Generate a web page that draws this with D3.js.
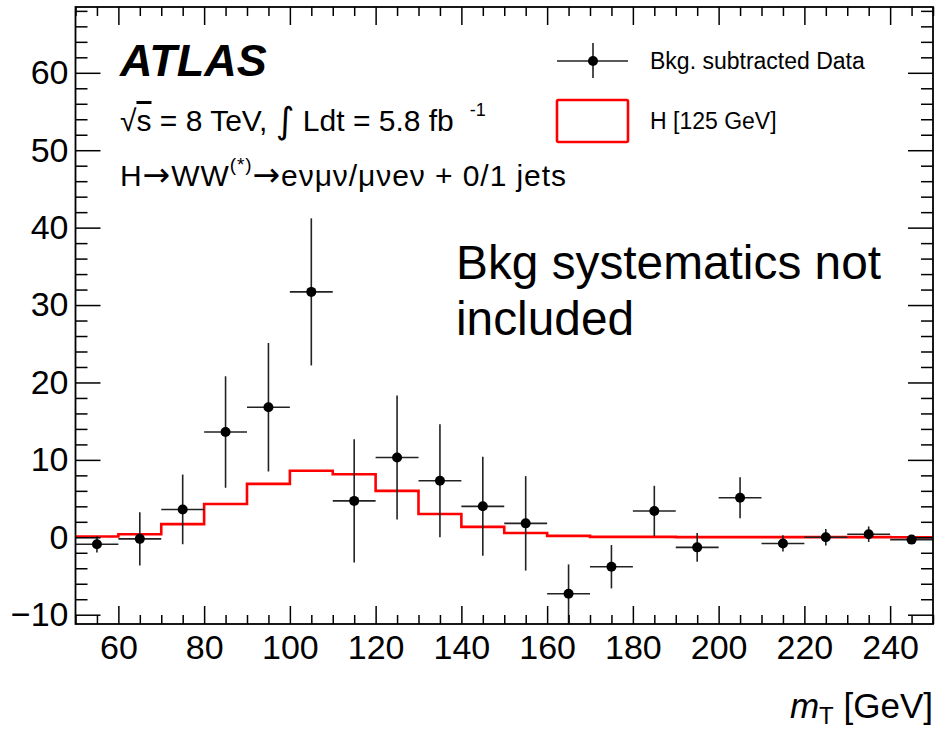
<!DOCTYPE html>
<html>
<head>
<meta charset="utf-8">
<script src="https://cdn.jsdelivr.net/npm/d3@7"></script>
<style>
  html, body { margin: 0; padding: 0; background: #fff; }
  svg { display: block; }
  text { font-family: "Liberation Sans", Arial, Helvetica, sans-serif; fill: #000; }
</style>
</head>
<body>
<svg id="chart" width="949" height="730"></svg>
<script>
// ---- data ----
const binEdges = [50, 60, 70, 80, 90, 100, 110, 120, 130, 140, 150, 160, 170, 180, 190, 200, 210, 220, 230, 240, 250];
const binCenters = [55, 65, 75, 85, 95, 105, 115, 125, 135, 145, 155, 165, 175, 185, 195, 205, 215, 225, 235, 245];
const dataValues = [-0.9, -0.2, 3.6, 13.6, 16.8, 31.7, 4.7, 10.3, 7.3, 4.0, 1.8, -7.3, -3.8, 3.4, -1.3, 5.1, -0.8, 0.0, 0.4, -0.3];
const dataErrors = [1.05, 3.45, 4.5, 7.2, 8.3, 9.5, 7.95, 8.0, 7.3, 6.4, 6.1, 3.8, 2.8, 3.25, 1.85, 2.65, 1.05, 1.07, 1.0, 0.3];
const signalValues = [0.1, 0.4, 1.7, 4.3, 6.9, 8.6, 8.15, 6.0, 3.0, 1.35, 0.55, 0.18, 0.06, 0.05, 0.02, 0.02, 0.02, 0.02, 0.02, 0.01];
const xTicks = [60, 80, 100, 120, 140, 160, 180, 200, 220, 240];
const yTicks = [-10, 0, 10, 20, 30, 40, 50, 60];
const legendLabels = ["Bkg. subtracted Data", "H [125 GeV]"];

// ---- layout ----
const svg = d3.select("#chart");
const L = 75.5, R = 933, T = 7, B = 624;
const x = d3.scaleLinear().domain([50, 250]).range([L, R]);
const y = d3.scaleLinear().domain([-11.2, 68.5]).range([B, T]);

svg.append("rect").attr("width", 949).attr("height", 730).attr("fill", "#fff");

// ---- signal histogram ----
const stepPts = binEdges.map((e, i) => [e, signalValues[Math.min(i, signalValues.length - 1)]]);
svg.append("path")
  .attr("d", d3.line().x(d => x(d[0])).y(d => y(d[1])).curve(d3.curveStepAfter)(stepPts))
  .attr("fill", "none").attr("stroke", "#ff0000").attr("stroke-width", 2.6);

// ---- data points ----
const pts = svg.append("g");
binCenters.forEach((c, i) => {
  const g = pts.append("g");
  g.append("line").attr("x1", x(binEdges[i])).attr("x2", x(binEdges[i + 1]))
    .attr("y1", y(dataValues[i])).attr("y2", y(dataValues[i]))
    .attr("stroke", "#222").attr("stroke-width", 1.6);
  g.append("line").attr("x1", x(c)).attr("x2", x(c))
    .attr("y1", Math.max(T, y(dataValues[i] + dataErrors[i])))
    .attr("y2", Math.min(B, y(dataValues[i] - dataErrors[i])))
    .attr("stroke", "#222").attr("stroke-width", 1.6);
  g.append("circle").attr("cx", x(c)).attr("cy", y(dataValues[i])).attr("r", 5).attr("fill", "#000");
});

// ---- axes ----
const minorX = d3.range(50, 251, 5).filter(v => v % 20 !== 0);
const minorY = d3.range(-10, 69, 2).filter(v => v % 10 !== 0);
function styleAxis(g) {
  g.select(".domain").remove();
  g.selectAll("line").attr("stroke", "#000").attr("stroke-width", 1.5);
  g.selectAll("text").attr("font-size", 34).attr("font-family", "Liberation Sans, Arial, sans-serif").attr("fill", "#000");
}
svg.append("g").attr("transform", `translate(0,${B})`)
  .call(d3.axisBottom(x).tickValues(xTicks).tickSize(-18).tickPadding(11).tickFormat(d3.format("d"))).call(styleAxis);
svg.append("g").attr("transform", `translate(0,${B})`)
  .call(d3.axisBottom(x).tickValues(minorX).tickSize(-9).tickFormat("")).call(styleAxis);
svg.append("g").attr("transform", `translate(0,${T})`)
  .call(d3.axisTop(x).tickValues(xTicks).tickSize(-18).tickFormat("")).call(styleAxis);
svg.append("g").attr("transform", `translate(0,${T})`)
  .call(d3.axisTop(x).tickValues(minorX).tickSize(-9).tickFormat("")).call(styleAxis);
svg.append("g").attr("transform", `translate(${L},0)`)
  .call(d3.axisLeft(y).tickValues(yTicks).tickSize(-25).tickPadding(7).tickFormat(d3.format("d"))).call(styleAxis);
svg.append("g").attr("transform", `translate(${L},0)`)
  .call(d3.axisLeft(y).tickValues(minorY).tickSize(-12).tickFormat("")).call(styleAxis);
svg.append("g").attr("transform", `translate(${R},0)`)
  .call(d3.axisRight(y).tickValues(yTicks).tickSize(-25).tickFormat("")).call(styleAxis);
svg.append("g").attr("transform", `translate(${R},0)`)
  .call(d3.axisRight(y).tickValues(minorY).tickSize(-12).tickFormat("")).call(styleAxis);

svg.append("rect").attr("x", L).attr("y", T).attr("width", R - L).attr("height", B - T)
  .attr("fill", "none").attr("stroke", "#000").attr("stroke-width", 1.8);

// ---- axis title ----
const xt = svg.append("text").attr("x", R).attr("y", 718).attr("text-anchor", "end").attr("font-size", 35);
xt.append("tspan").attr("font-style", "italic").text("m");
xt.append("tspan").attr("font-size", 24).attr("dy", 6).text("T");
xt.append("tspan").attr("dy", -6).text(" [GeV]");

// ---- labels ----
svg.append("text").attr("x", 120).attr("y", 76).attr("font-size", 45)
  .attr("font-weight", "bold").attr("font-style", "italic").text("ATLAS");

const l1 = svg.append("text").attr("x", 120).attr("y", 131).attr("font-size", 30);
l1.append("tspan").text("√");
l1.append("tspan").style("text-decoration", "overline").text("s");
l1.append("tspan").text(" = 8 TeV, ");
l1.append("tspan").attr("font-size", 36).attr("font-family", "DejaVu Sans").attr("dy", 2).text("∫");
l1.append("tspan").attr("dy", -2).text(" Ldt = 5.8 fb");
l1.append("tspan").attr("font-size", 18).attr("dy", -15).attr("dx", 16).text("-1");

const arrowFont = "DejaVu Sans";
const l2 = svg.append("text").attr("x", 120).attr("y", 186).attr("font-size", 30)
  .attr("textLength", 446).attr("lengthAdjust", "spacing");
l2.append("tspan").text("H");
l2.append("tspan").attr("font-family", arrowFont).attr("font-size", 33).text("→");
l2.append("tspan").text("WW");
l2.append("tspan").attr("font-size", 19).attr("dy", -15).text("(*)");
l2.append("tspan").attr("dy", 15).attr("font-family", arrowFont).attr("font-size", 33).text("→");
l2.append("tspan").text("eνμν/μνeν + 0/1 jets");

// note
svg.append("text").attr("x", 456).attr("y", 279).attr("font-size", 47.8).text("Bkg systematics not");
svg.append("text").attr("x", 456).attr("y", 335).attr("font-size", 47.8).text("included");

// ---- legend ----
const lg = svg.append("g");
lg.append("line").attr("x1", 557).attr("x2", 628).attr("y1", 61).attr("y2", 61).attr("stroke", "#222").attr("stroke-width", 1.6);
lg.append("line").attr("x1", 593).attr("x2", 593).attr("y1", 43).attr("y2", 78).attr("stroke", "#222").attr("stroke-width", 1.6);
lg.append("circle").attr("cx", 593).attr("cy", 61).attr("r", 5).attr("fill", "#000");
lg.append("text").attr("x", 650).attr("y", 69).attr("font-size", 23).text(legendLabels[0]);
lg.append("rect").attr("x", 557).attr("y", 100).attr("width", 71).attr("height", 42).attr("rx", 1.5)
  .attr("fill", "none").attr("stroke", "#ff0000").attr("stroke-width", 2.6);
lg.append("text").attr("x", 650).attr("y", 129).attr("font-size", 23).text(legendLabels[1]);
</script>
</body>
</html>
